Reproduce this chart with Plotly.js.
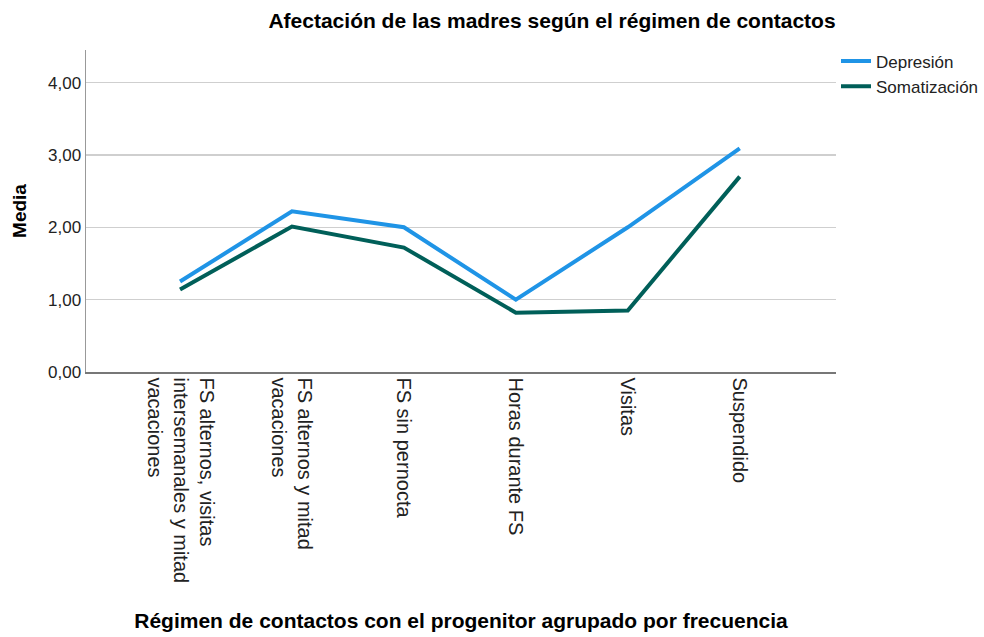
<!DOCTYPE html>
<html>
<head>
<meta charset="utf-8">
<script src="https://cdn.plot.ly/plotly-3.0.1.min.js"></script>
<style>html,body{margin:0;padding:0;background:#fff;}#chart{width:984px;height:637px;}</style>
</head>
<body>
<div id="chart"></div>
<script>
const categories = [
  "FS alternos, visitas<br>intersemanales y mitad<br>vacaciones",
  "FS alternos y mitad<br>vacaciones",
  "FS sin pernocta",
  "Horas durante FS",
  "Visitas",
  "Suspendido"
];
const depresion = [1.25, 2.22, 2.00, 1.00, 2.00, 3.09];
const somatizacion = [1.14, 2.01, 1.72, 0.82, 0.85, 2.70];
const yTickVals = [0, 1, 2, 3, 4];
const yTickText = ["0,00", "1,00", "2,00", "3,00", "4,00"];

const FONT = "Liberation Sans, Arial, sans-serif";
const idx = categories.map((_, i) => i);

const traces = [
  {x: idx, y: depresion, name: "Depresión", type: "scatter", mode: "lines",
   line: {color: "#1f94e6", width: 4}},
  {x: idx, y: somatizacion, name: "Somatización", type: "scatter", mode: "lines",
   line: {color: "#005f59", width: 4}}
];

const layout = {
  width: 984, height: 637,
  margin: {l: 86, r: 148, t: 50, b: 265, autoexpand: false},
  paper_bgcolor: "#fff", plot_bgcolor: "#fff",
  font: {family: FONT, color: "#000"},
  title: {text: "<b>Afectación de las madres según el régimen de contactos</b>",
          font: {size: 21, family: FONT, color: "#000"},
          x: 0.561, xref: "container", xanchor: "center", y: 0.968, yref: "container", yanchor: "middle"},
  showlegend: true,
  legend: {x: 1.0, xanchor: "left", y: 1.02, yanchor: "top", font: {size: 17, family: FONT, color: "#222"},
           bgcolor: "rgba(0,0,0,0)", tracegroupgap: 0, itemwidth: 30},
  xaxis: {
    range: [-0.84, 5.86],
    tickvals: idx, ticktext: categories, tickangle: 90,
    tickfont: {size: 20, family: FONT, color: "#222"},
    showgrid: false, zeroline: false,
    showline: true, linecolor: "#777", linewidth: 1.5,
    ticks: "", ticklen: 0,
    title: {text: "<b>Régimen de contactos con el progenitor agrupado por frecuencia</b>",
            font: {size: 21, family: FONT, color: "#000"}, standoff: 31}
  },
  yaxis: {
    range: [0, 4.45],
    tickvals: yTickVals, ticktext: yTickText,
    tickfont: {size: 17, family: FONT, color: "#222"},
    showgrid: true, gridcolor: "#cfcfcf", gridwidth: 1.5,
    zeroline: false, showline: true, linecolor: "#999", linewidth: 1.5,
    ticks: "",
    title: {text: "<b>Media</b>", font: {size: 19, family: FONT, color: "#000"}, standoff: 16}
  }
};

Plotly.newPlot("chart", traces, layout, {displayModeBar: false, staticPlot: true});
</script>
</body>
</html>
